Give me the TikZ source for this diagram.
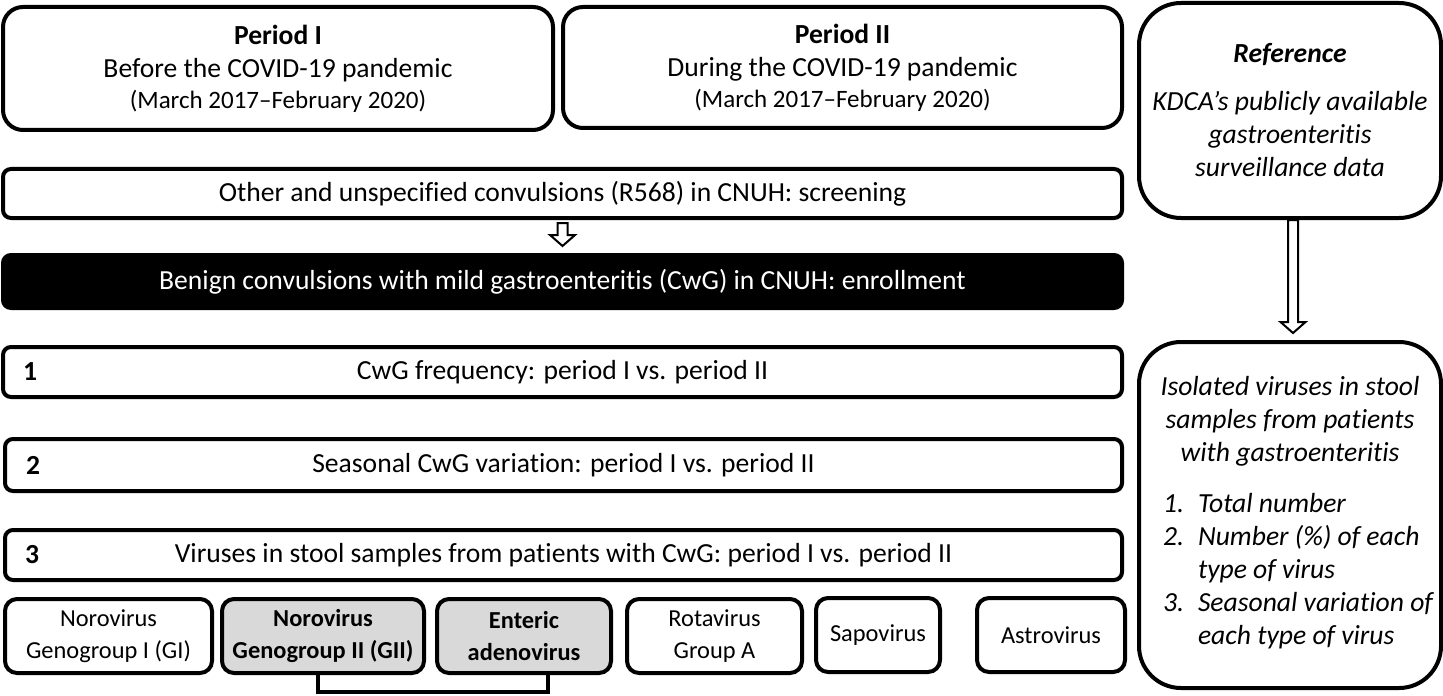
\documentclass[tikz,border=0pt]{standalone}
\usepackage{fontspec}
\setmainfont{Carlito}[Ligatures=NoCommon]
\usetikzlibrary{positioning,calc}
\definecolor{boxgray}{HTML}{D9D9D9}
\newcommand{\mainsize}{\fontsize{13.8}{16.5}\selectfont}
\newcommand{\datesize}{\fontsize{12.5}{15}\selectfont}
\newcommand{\virussize}{\fontsize{12.2}{16}\selectfont}
% hollow block arrow: from, to, head half width, head length
\newcommand{\hollowarrow}[4]{%
  \draw[line width=1pt, fill=white]
    ($(#1)+(-5,0)$) -- ($(#2)+(-5,-#4)$) -- ($(#2)+(-#3,-#4)$) -- (#2)
    -- ($(#2)+(#3,-#4)$) -- ($(#2)+(5,-#4)$) -- ($(#1)+(5,0)$) -- cycle;}
\tikzset{
  periodbox/.style={
    rectangle, draw=black, line width=2pt, rounded corners=10pt,
    fill=white, align=center, font=\mainsize, inner sep=0pt
  },
  stepbox/.style={
    rectangle, draw=black, line width=2pt, rounded corners=4pt,
    fill=white, align=center, font=\mainsize, inner sep=0pt,
    minimum width=559.5pt
  },
  virusbox/.style={
    rectangle, draw=black, line width=2pt, rounded corners=6pt,
    fill=#1, align=center, font=\virussize, inner sep=0pt,
    minimum height=37pt
  },
  virusbox/.default=white,
  sidebox/.style={
    rectangle, draw=black, line width=2pt, rounded corners=21pt,
    fill=white, align=center, font=\mainsize\itshape, inner sep=0pt,
    minimum width=151pt
  },
  numlabel/.style={font=\mainsize\bfseries, inner sep=0pt},
}

\begin{document}
\begin{tikzpicture}[x=0.5pt, y=-0.5pt]
  \useasboundingbox (0,0) rectangle (1443,695);

  % Periods
  \node[periodbox, minimum width=275pt, minimum height=61.5pt] (per1) at (278,68.5)
    {\textbf{Period I}\\Before the COVID-19 pandemic\\[-1pt]{\datesize (March 2017--February 2020)}};
  \node[periodbox, minimum width=279.5pt, minimum height=60.5pt] (per2) at (842.5,67.5)
    {\textbf{Period II}\\During the COVID-19 pandemic\\[-1pt]{\datesize (March 2017--February 2020)}};

  % Screening and enrollment
  \node[stepbox, minimum height=24.5pt] (screen) at (562.5,193.5)
    {Other and unspecified convulsions (R568) in CNUH: screening};
  \node[stepbox, minimum height=26.5pt, fill=black, text=white] (enroll) at (562.5,281.5)
    {Benign convulsions with mild gastroenteritis (CwG) in CNUH: enrollment};
  \coordinate (scrtop) at ($(screen.south)+(0,3)$);
  \coordinate (scrbot) at ($(enroll.north)+(0,-7)$);
  \hollowarrow{scrtop}{scrbot}{12.5}{11}

  % Analyses
  \node[stepbox, minimum height=25pt] (ana1) at (562.5,372)
    {CwG frequency: period I vs. period II};
  \node[stepbox, minimum height=26pt, minimum width=558.5pt] (ana2) at (563.5,465)
    {Seasonal CwG variation: period I vs. period II};
  \node[stepbox, minimum height=25pt, minimum width=558.5pt] (ana3) at (563.5,555)
    {Viruses in stool samples from patients with CwG: period I vs. period II};
  \node[numlabel] (num1) at ($(ana1.west)+(29,0)$) {1};
  \node[numlabel] (num2) at ($(ana2.west)+(30,0)$) {2};
  \node[numlabel] (num3) at ($(ana3.west)+(29,0)$) {3};

  % Viruses
  \node[virusbox, minimum width=103.5pt] (nogi) at (108.5,636)
    {Norovirus\\Genogroup I (GI)};
  \node[virusbox=boxgray, minimum width=101pt, font=\virussize\bfseries] (nogii) at (323,636)
    {Norovirus\\Genogroup II (GII)};
  \node[virusbox=boxgray, minimum width=87pt, font=\virussize\bfseries] (adeno) at (524,636)
    {Enteric\\adenovirus};
  \node[virusbox, minimum width=87.5pt] (rota) at (714.5,636)
    {Rotavirus\\Group A};
  \node[virusbox, minimum width=62pt] (sapo) at (878,635) {Sapovirus};
  \node[virusbox, minimum width=74pt] (astro) at (1051,635) {Astrovirus};
  \draw[line width=2pt] ($(nogii.south)+(-5,0)$) -- ++(0,17) -| ($(adeno.south)+(24,0)$);

  % Reference data
  \node[sidebox, minimum height=107.5pt] (ref) at (1290,110.5)
    {\textbf{Reference}\\[7.5pt]KDCA's publicly available\\gastroenteritis\\surveillance data};
  \node[sidebox, minimum height=173pt] (iso) at (1290,515)
    {Isolated viruses in stool\\samples from patients\\with gastroenteritis\\[10.5pt]
     \hspace*{8pt}\begin{tabular}{@{}l@{\hspace{7pt}}l@{}}
       1. & Total number\\
       2. & Number (\%) of each\\
          & type of virus\\
       3. & Seasonal variation of\\
          & each type of virus
     \end{tabular}};
  \coordinate (reftop) at ($(ref.south)+(3,0)$);
  \coordinate (refbot) at ($(iso.north)+(3,-7)$);
  \hollowarrow{reftop}{refbot}{12.5}{11}
\end{tikzpicture}
\end{document}
